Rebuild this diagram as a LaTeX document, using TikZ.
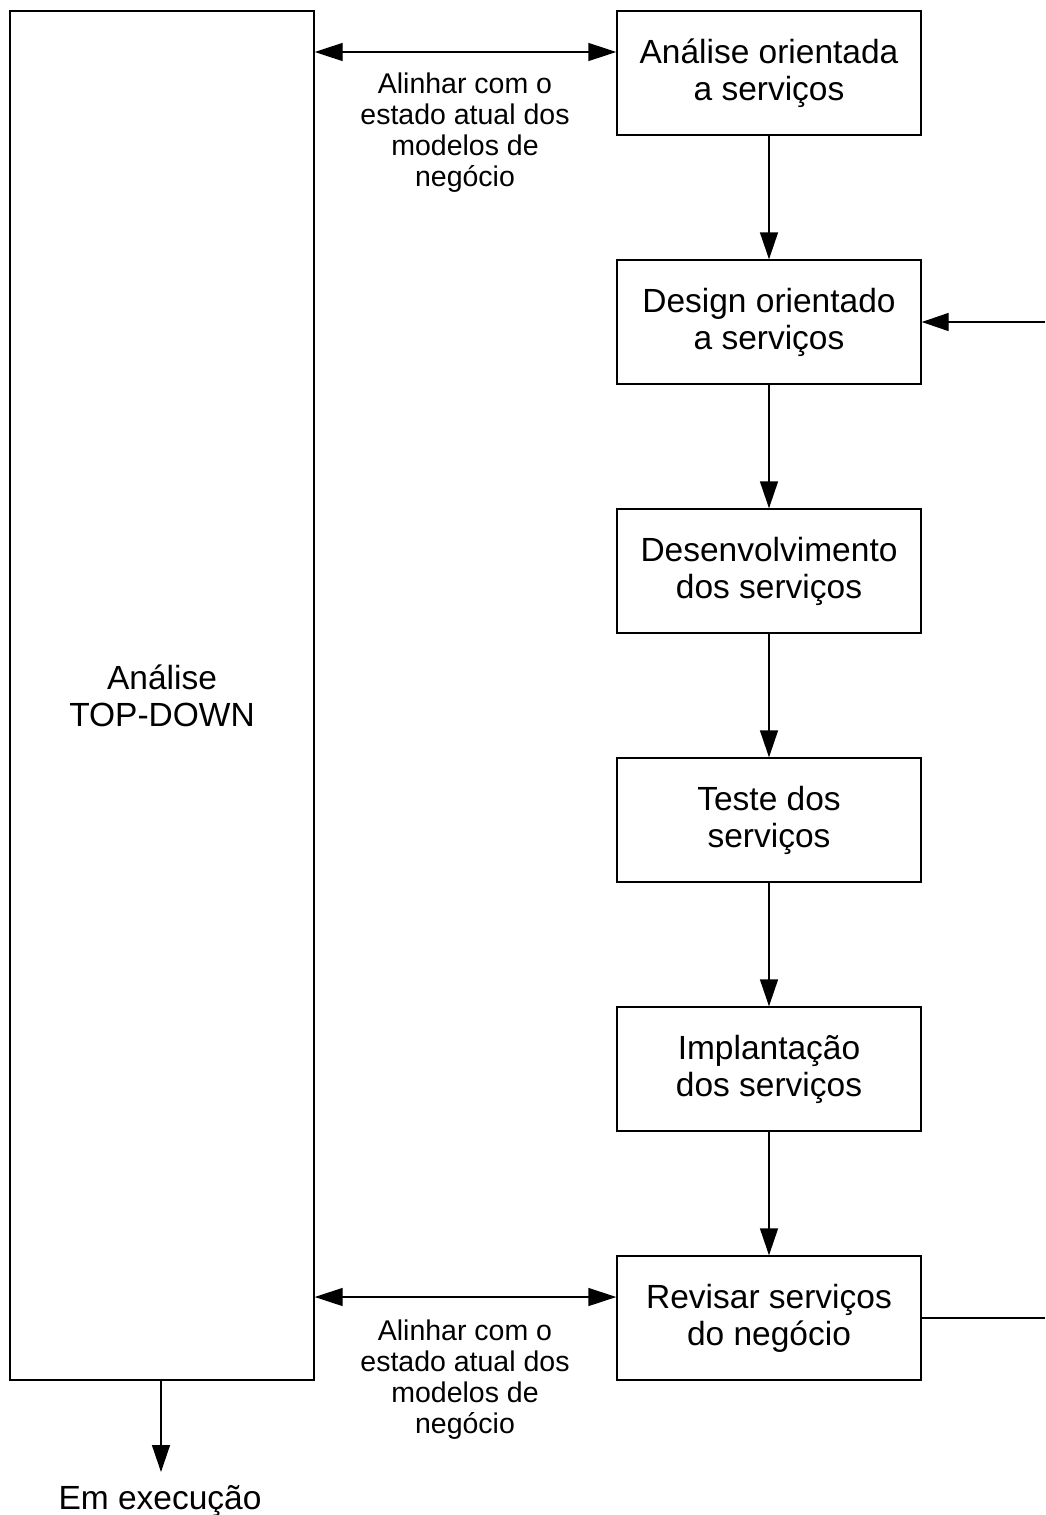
\documentclass[tikz,border=0pt]{standalone}
\usepackage{fontspec}
\setmainfont{Liberation Sans}
\usetikzlibrary{arrows.meta}
\begin{document}
\begin{tikzpicture}[x=1pt,y=-1pt,
  box/.style={draw=black,line width=1.4pt,minimum width=304pt,minimum height=124pt,inner sep=0pt,align=center,font=\fontsize{33.5}{37}\selectfont},
  bigbox/.style={draw=black,line width=1.4pt,minimum width=304pt,minimum height=1369pt,inner sep=0pt,align=center,font=\fontsize{33.5}{37}\selectfont},
  lbl/.style={align=center,inner sep=0pt,font=\fontsize{28.5}{31}\selectfont},
  conn/.style={line width=1.4pt},
  tip/.style={-{Triangle[length=27pt,width=18pt]}},
  dtip/.style={{Triangle[length=28pt,width=18pt]}-{Triangle[length=28pt,width=18pt]}}]
\useasboundingbox (0,0) rectangle (1045,1515);
\node[bigbox] (big) at (162,695.5) {Análise\\TOP-DOWN};
\node[box] (a1) at (769,73) {Análise orientada\\a serviços};
\node[box] (a2) at (769,322) {Design orientado\\a serviços};
\node[box] (a3) at (769,571) {Desenvolvimento\\dos serviços};
\node[box] (a4) at (769,820) {Teste dos\\serviços};
\node[box] (a5) at (769,1069) {Implantação\\dos serviços};
\node[box] (a6) at (769,1318) {Revisar serviços\\do negócio};
\node[lbl] (l1) at (465,133) {Alinhar com o\\estado atual dos\\modelos de\\negócio};
\node[lbl] (l2) at (465,1380) {Alinhar com o\\estado atual dos\\modelos de\\negócio};
\node[inner sep=0pt,font=\fontsize{33.5}{37}\selectfont] (run) at (160,1501) {Em execução};
\coordinate (r1) at (1045,1318);
\coordinate (r2) at (1045,322);
\coordinate (down) at (161,1472);
\draw[conn,dtip] (big.east |- 0,52) -- (a1.west |- 0,52);
\draw[conn,dtip] (big.east |- 0,1297) -- (a6.west |- 0,1297);
\draw[conn,tip] (a1) -- (a2);
\draw[conn,tip] (a2) -- (a3);
\draw[conn,tip] (a3) -- (a4);
\draw[conn,tip] (a4) -- (a5);
\draw[conn,tip] (a5) -- (a6);
\draw[conn] (a6.east) -- (r1);
\draw[conn,tip] (r2) -- (a2.east);
\draw[conn,tip] (big.south -| down) -- (down);
\end{tikzpicture}
\end{document}
